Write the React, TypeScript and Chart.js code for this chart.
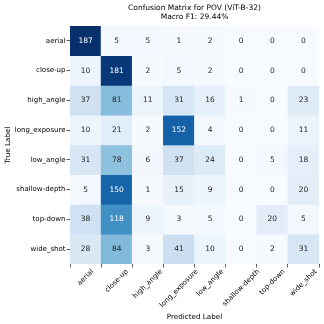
import React, { useEffect, useRef } from "react";
import { Chart, registerables } from "chart.js";

Chart.register(...registerables);

const classes = ["aerial", "close-up", "high_angle", "long_exposure", "low_angle", "shallow-depth", "top-down", "wide_shot"];
const rowAerial = [187, 5, 5, 1, 2, 0, 0, 0];
const rowCloseUp = [10, 181, 2, 5, 2, 0, 0, 0];
const rowHighAngle = [37, 81, 11, 31, 16, 1, 0, 23];
const rowLongExposure = [10, 21, 2, 152, 4, 0, 0, 11];
const rowLowAngle = [31, 78, 6, 37, 24, 0, 5, 18];
const rowShallowDepth = [5, 150, 1, 15, 9, 0, 0, 20];
const rowTopDown = [38, 118, 9, 3, 5, 0, 20, 5];
const rowWideShot = [28, 84, 3, 41, 10, 0, 2, 31];
const rows = [rowAerial, rowCloseUp, rowHighAngle, rowLongExposure, rowLowAngle, rowShallowDepth, rowTopDown, rowWideShot];
const titleLines = ["Confusion Matrix for POV (ViT-B-32)", "Macro F1: 29.44%"];

const BLUES = ["#f7fbff", "#deebf7", "#c6dbef", "#9ecae1", "#6baed6", "#4292c6", "#2171b5", "#08519c", "#08306b"];
const FONT = "DejaVu Sans";

function hexToRgb(h: string) {
  return [parseInt(h.slice(1, 3), 16), parseInt(h.slice(3, 5), 16), parseInt(h.slice(5, 7), 16)];
}
function blues(t: number) {
  t = Math.max(0, Math.min(1, t));
  const p = t * (BLUES.length - 1);
  const i = Math.min(Math.floor(p), BLUES.length - 2);
  const f = p - i;
  const a = hexToRgb(BLUES[i]);
  const b = hexToRgb(BLUES[i + 1]);
  return a.map((v, k) => Math.round(v + (b[k] - v) * f));
}
function lum(rgb: number[]) {
  const c = rgb.map((v) => {
    const s = v / 255;
    return s <= 0.03928 ? s / 12.92 : Math.pow((s + 0.055) / 1.055, 2.4);
  });
  return 0.2126 * c[0] + 0.7152 * c[1] + 0.0722 * c[2];
}

export default function App() {
  const ref = useRef<HTMLCanvasElement>(null);
  useEffect(() => {
    const vmax = Math.max(...rows.flat());
    const datasets = rows.map((row, r) => ({
      label: classes[r],
      data: row.map((_, c) => ({ x: classes[c], y: [r, r + 1] })),
      backgroundColor: row.map((v) => {
        const c = blues(v / vmax);
        return `rgb(${c[0]},${c[1]},${c[2]})`;
      }),
      borderWidth: 0,
      grouped: false,
      barPercentage: 1,
      categoryPercentage: 1,
    }));

    const labelPlugin = {
      id: "cellLabels",
      afterDatasetsDraw(chart: any) {
        const ctx = chart.ctx;
        ctx.save();
        ctx.font = `7.5px "${FONT}"`;
        ctx.textAlign = "center";
        ctx.textBaseline = "middle";
        chart.data.datasets.forEach((ds: any, r: number) => {
          const meta = chart.getDatasetMeta(r);
          meta.data.forEach((el: any, c: number) => {
            const v = rows[r][c];
            const rgb = blues(v / vmax);
            ctx.fillStyle = lum(rgb) > 0.408 ? "#262626" : "#ffffff";
            const p = el.getCenterPoint();
            ctx.fillText(String(v), p.x, p.y);
          });
        });
        const ca = chart.chartArea;
        const cx = (ca.left + ca.right) / 2;
        ctx.fillStyle = "#000000";
        ctx.font = `7.5px "${FONT}"`;
        ctx.fillText(titleLines[0], cx, 8);
        ctx.fillText(titleLines[1], cx, 17);
        // rotated x tick labels, centred on each tick (rotation 45)
        const xs = chart.scales.x;
        ctx.font = `7px "${FONT}"`;
        ctx.textAlign = "center";
        ctx.textBaseline = "middle";
        const h = 7;
        const y0 = ca.bottom + 4;
        classes.forEach((lab, i) => {
          const px = xs.getPixelForValue(i);
          const w = ctx.measureText(lab).width;
          const cy = y0 + ((w + h) * 0.7071) / 2;
          ctx.save();
          ctx.translate(px, cy);
          ctx.rotate(-Math.PI / 4);
          ctx.fillText(lab, 0, 0);
          ctx.restore();
        });
        ctx.restore();
      },
    };

    const chart = new Chart(ref.current!, {
      type: "bar",
      data: { labels: classes, datasets: datasets as any },
      options: {
        animation: false,
        responsive: false,
        maintainAspectRatio: false,
        layout: { padding: { top: 26, right: 5, left: 0, bottom: 0 } },
        plugins: { legend: { display: false }, tooltip: { enabled: false }, title: { display: false } },
        scales: {
          x: {
            type: "category",
            offset: true,
            grid: { display: true, drawOnChartArea: false, drawTicks: true, tickLength: 3.5, color: "#333333", lineWidth: 0.8 },
            border: { display: false },
            ticks: { font: { family: FONT, size: 7 }, color: "rgba(0,0,0,0)", minRotation: 45, maxRotation: 45, padding: 1 },
            title: { display: true, text: "Predicted Label", font: { family: FONT, size: 7.2 }, color: "#000000", padding: { top: 0, bottom: 3 } },
            afterFit(scale: any) {
              scale.height = 60;
            },
          },
          y: {
            type: "linear",
            reverse: true,
            min: 0,
            max: 8,
            afterBuildTicks(scale: any) {
              scale.ticks = classes.map((_, i) => ({ value: i + 0.5 }));
            },
            grid: { display: true, drawOnChartArea: false, drawTicks: true, tickLength: 3.5, color: "#333333", lineWidth: 0.8 },
            border: { display: false },
            ticks: {
              font: { family: FONT, size: 7 },
              color: "#000000",
              padding: 1,
              callback: (v: any) => classes[Math.floor(Number(v))],
            },
            title: { display: true, text: "True Label", font: { family: FONT, size: 7.2 }, color: "#000000", padding: { top: 4, bottom: 0 } },
            afterFit(scale: any) {
              scale.width = 70;
            },
          },
        },
      },
      plugins: [labelPlugin],
    });
    return () => chart.destroy();
  }, []);

  return (
    <div style={{ position: "fixed", left: 0, top: 0, width: 324, height: 324, background: "#fff" }}>
      <canvas ref={ref} width={324} height={324} style={{ width: 324, height: 324 }} />
    </div>
  );
}
